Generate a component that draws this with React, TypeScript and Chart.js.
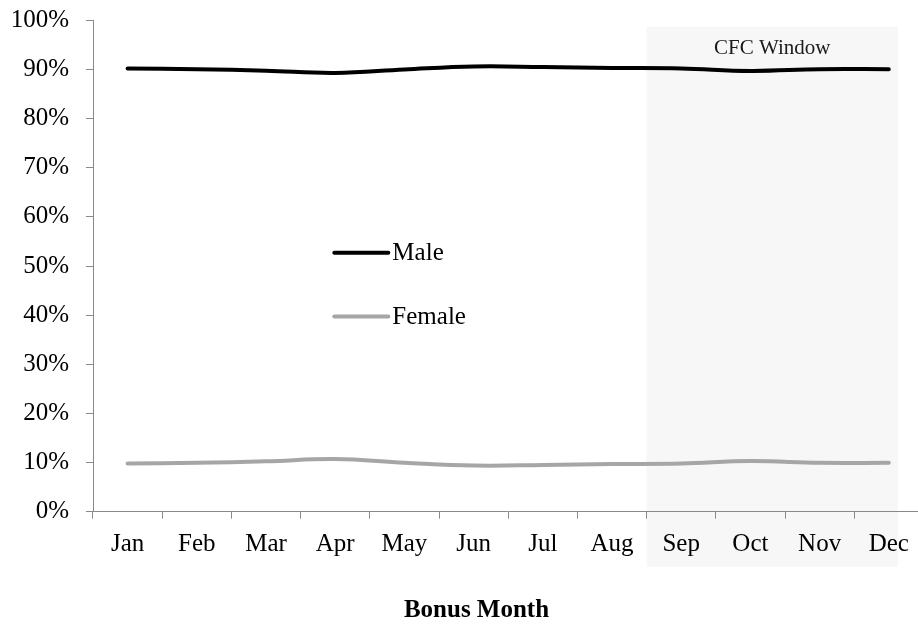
import React, { useEffect, useRef } from "react";
import { Chart, registerables } from "chart.js";

Chart.register(...registerables);

const months = ["Jan", "Feb", "Mar", "Apr", "May", "Jun", "Jul", "Aug", "Sep", "Oct", "Nov", "Dec"];
const maleShare = [90.2, 90.05, 89.75, 89.3, 90.0, 90.6, 90.5, 90.3, 90.2, 89.7, 90.05, 90.05];
const femaleShare = [9.8, 9.95, 10.25, 10.7, 9.97, 9.4, 9.5, 9.7, 9.8, 10.3, 9.95, 9.95];
const seriesNames = ["Male", "Female"];
const yTicks = [0, 10, 20, 30, 40, 50, 60, 70, 80, 90, 100];
const windowLabel = "CFC Window";
const windowStartIndex = 7.5;
const windowEndIndex = 11.13;
const windowTopValue = 98.7;
const xTitle = "Bonus Month";

const FONT = "'Liberation Serif', 'Times New Roman', serif";
const AXIS_COLOR = "#898989";

export default function App() {
  const ref = useRef<HTMLCanvasElement | null>(null);

  useEffect(() => {
    document.body.style.margin = "0";
    document.body.style.overflow = "hidden";
    const canvas = ref.current;
    if (!canvas) return;

    const overlay = {
      id: "overlay",
      beforeDraw(chart: any) {
        const { ctx, chartArea } = chart;
        const x = chart.scales.x;
        const y = chart.scales.y;
        const left = x.getPixelForValue(windowStartIndex);
        const right = x.getPixelForValue(windowEndIndex);
        const top = y.getPixelForValue(windowTopValue);
        const bottom = chartArea.bottom + 55;
        ctx.save();
        ctx.fillStyle = "#f7f7f7";
        ctx.fillRect(left, top, right - left, bottom - top);
        ctx.restore();
      },
      afterDraw(chart: any) {
        const { ctx, chartArea } = chart;
        const x = chart.scales.x;
        const y = chart.scales.y;
        const left = x.getPixelForValue(windowStartIndex);
        const right = x.getPixelForValue(windowEndIndex);
        ctx.save();
        ctx.fillStyle = "#1a1a1a";
        ctx.font = `21px ${FONT}`;
        ctx.textAlign = "center";
        ctx.textBaseline = "middle";
        ctx.fillText(windowLabel, (left + right) / 2, y.getPixelForValue(windowTopValue) + 22);

        // legend inside plot
        const w = chartArea.right - chartArea.left;
        const lx1 = chartArea.left + w * 0.2906;
        const lx2 = chartArea.left + w * 0.3556;
        const tx = chartArea.left + w * 0.3605;
        const legendY = [52.7, 39.7];
        chart.data.datasets.forEach((ds: any, i: number) => {
          const py = y.getPixelForValue(legendY[i]);
          ctx.strokeStyle = ds.borderColor;
          ctx.lineWidth = 4;
          ctx.lineCap = "round";
          ctx.beginPath();
          ctx.moveTo(lx1, py);
          ctx.lineTo(lx2, py);
          ctx.stroke();
          ctx.fillStyle = "#000";
          ctx.font = `25px ${FONT}`;
          ctx.textAlign = "left";
          ctx.textBaseline = "middle";
          ctx.fillText(ds.label, tx, py + 1);
        });

        // x-axis title
        ctx.font = `bold 25px ${FONT}`;
        ctx.textAlign = "center";
        ctx.textBaseline = "middle";
        ctx.fillStyle = "#000";
        ctx.fillText(xTitle, 476.5, chartArea.bottom + 99);
        ctx.restore();
      },
    };

    const chart = new Chart(canvas, {
      type: "line",
      data: {
        labels: months,
        datasets: [
          {
            label: seriesNames[0],
            data: maleShare,
            borderColor: "#000000",
            backgroundColor: "#000000",
            borderWidth: 4,
            pointRadius: 0,
            tension: 0.4,
            borderCapStyle: "round",
          },
          {
            label: seriesNames[1],
            data: femaleShare,
            borderColor: "#a6a6a6",
            backgroundColor: "#a6a6a6",
            borderWidth: 4,
            pointRadius: 0,
            tension: 0.4,
            borderCapStyle: "round",
          },
        ],
      },
      options: {
        responsive: false,
        animation: false,
        devicePixelRatio: 1,
        layout: { padding: { left: 0, top: 20.3, right: 16.6, bottom: 0 } },
        plugins: {
          legend: { display: false },
          tooltip: { enabled: false },
          title: { display: false },
        },
        scales: {
          x: {
            type: "category",
            offset: true,
            grid: {
              offset: true,
              drawOnChartArea: false,
              drawTicks: true,
              tickLength: 7,
              color: AXIS_COLOR,
              lineWidth: 1,
            },
            border: { display: true, color: AXIS_COLOR, width: 1 },
            ticks: {
              color: "#000",
              font: { family: FONT, size: 25 },
              padding: 11,
              maxRotation: 0,
              autoSkip: false,
            },
            afterFit(scale: any) {
              scale.height = 114.3;
              scale.paddingLeft = 0;
              scale.paddingRight = 0;
            },
          },
          y: {
            min: 0,
            max: 100,
            afterBuildTicks(scale: any) {
              scale.ticks = yTicks.map((v) => ({ value: v }));
            },
            grid: {
              drawOnChartArea: false,
              drawTicks: true,
              tickLength: 7,
              color: AXIS_COLOR,
              lineWidth: 1,
            },
            border: { display: true, color: AXIS_COLOR, width: 1 },
            ticks: {
              color: "#000",
              font: { family: FONT, size: 25 },
              padding: 17,
              callback: (v: any) => `${v}%`,
            },
            afterFit(scale: any) {
              scale.width = 93;
              scale.paddingTop = 0;
              scale.paddingBottom = 0;
            },
          },
        },
      },
      plugins: [overlay],
    });

    return () => chart.destroy();
  }, []);

  return (
    <div style={{ width: 918, height: 626, overflow: "hidden", position: "relative" }}>
      <canvas ref={ref} width={940} height={626} style={{ display: "block" }} />
    </div>
  );
}
